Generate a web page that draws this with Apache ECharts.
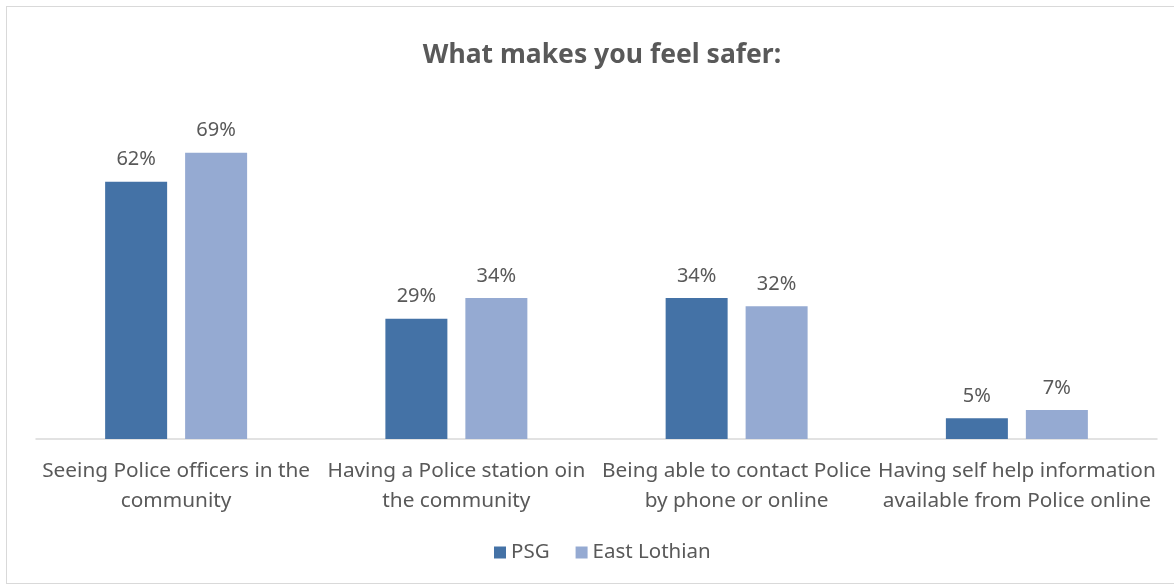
<!DOCTYPE html>
<html>
<head>
<meta charset="utf-8">
<script src="https://cdn.jsdelivr.net/npm/echarts@6/dist/echarts.min.js"></script>
<style>
  html, body { margin: 0; padding: 0; background: #fff; }
  #frame { position: absolute; left: 6px; top: 6px; width: 1180px; height: 578px; border: 1px solid #d9d9d9; box-sizing: border-box; }
  #main { position: absolute; left: 0; top: 0; width: 1174px; height: 588px; }
</style>
</head>
<body>
<div id="frame"></div>
<div id="main"></div>
<script>
var categories = [
    'Seeing Police officers in the\ncommunity',
    'Having a Police station oin\nthe community',
    'Being able to contact Police\nby phone or online',
    'Having self help information\navailable from Police online'
];
var psgValues = [62, 29, 34, 5];
var eastLothianValues = [69, 34, 32, 7];
var seriesNames = ['PSG', 'East Lothian'];

var chartDom = document.getElementById('main');
var myChart = echarts.init(chartDom);
var font = '"Noto Sans", "Open Sans", sans-serif';
var textColor = '#595959';

var option = {
    animation: false,
    textStyle: { fontFamily: font },
    color: ['#4472A6', '#95AAD2'],
    title: {
        text: 'What makes you feel safer:',
        left: 597,
        top: 37,
        textAlign: 'center',
        textStyle: { fontFamily: font, fontSize: 26.5, fontWeight: 'bold', color: textColor }
    },
    legend: {
        bottom: 20,
        left: 489,
        itemWidth: 12,
        itemHeight: 12,
        itemGap: 26,
        icon: 'rect',
        textStyle: { fontFamily: font, fontSize: 20.5, color: textColor },
        data: seriesNames
    },
    grid: { left: 36, right: 17, top: 107, bottom: 149 },
    xAxis: {
        type: 'category',
        data: categories,
        axisLine: { lineStyle: { color: '#d9d9d9', width: 1.5 } },
        axisTick: { show: false },
        axisLabel: {
            interval: 0,
            margin: 17,
            fontSize: 20.8,
            lineHeight: 30,
            color: textColor,
            fontFamily: font
        }
    },
    yAxis: {
        type: 'value',
        min: 0,
        max: 80,
        interval: 10,
        show: false
    },
    series: [
        {
            name: seriesNames[0],
            type: 'bar',
            data: psgValues,
            barWidth: 62,
            barGap: '29%',
            label: { show: true, position: 'top', distance: 12, formatter: '{c}%', fontSize: 20, color: textColor, fontFamily: font }
        },
        {
            name: seriesNames[1],
            type: 'bar',
            data: eastLothianValues,
            barWidth: 62,
            label: { show: true, position: 'top', distance: 12, formatter: '{c}%', fontSize: 20, color: textColor, fontFamily: font }
        }
    ]
};

option && myChart.setOption(option);
</script>
</body>
</html>
